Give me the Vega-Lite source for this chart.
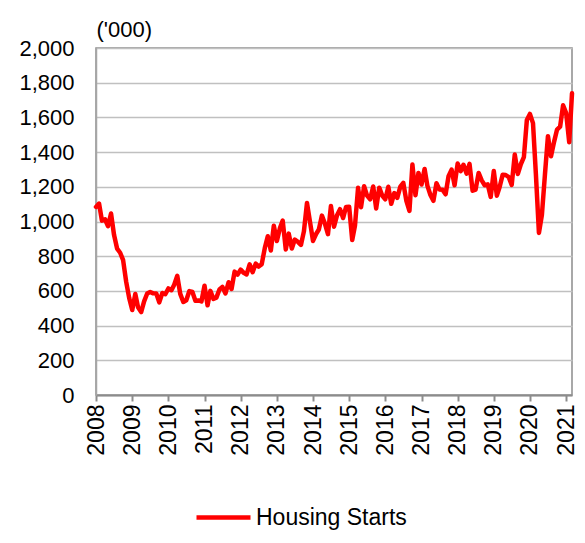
{
  "$schema": "https://vega.github.io/schema/vega-lite/v6.json",
  "width": 476,
  "height": 347,
  "autosize": {"type": "none"},
  "padding": {"left": 96, "top": 48, "right": 13, "bottom": 148},
  "background": "white",
  "config": {
    "font": "Liberation Sans",
    "view": {"stroke": "#8c8c8c", "strokeWidth": 1.5},
    "axis": {"labelColor": "#000000", "labelFont": "Liberation Sans", "titleFont": "Liberation Sans", "titleFontWeight": "normal", "titleColor": "#000000"}
  },
  "data": {
    "values": [
      {"date": "2008-01-01", "starts": 1084}, {"date": "2008-02-01", "starts": 1103}, {"date": "2008-03-01", "starts": 1005}, {"date": "2008-04-01", "starts": 1013}, {"date": "2008-05-01", "starts": 973}, {"date": "2008-06-01", "starts": 1046}, {"date": "2008-07-01", "starts": 923}, {"date": "2008-08-01", "starts": 844}, {"date": "2008-09-01", "starts": 820}, {"date": "2008-10-01", "starts": 777}, {"date": "2008-11-01", "starts": 652}, {"date": "2008-12-01", "starts": 560},
      {"date": "2009-01-01", "starts": 490}, {"date": "2009-02-01", "starts": 582}, {"date": "2009-03-01", "starts": 505}, {"date": "2009-04-01", "starts": 478}, {"date": "2009-05-01", "starts": 540}, {"date": "2009-06-01", "starts": 585}, {"date": "2009-07-01", "starts": 594}, {"date": "2009-08-01", "starts": 586}, {"date": "2009-09-01", "starts": 585}, {"date": "2009-10-01", "starts": 534}, {"date": "2009-11-01", "starts": 588}, {"date": "2009-12-01", "starts": 581},
      {"date": "2010-01-01", "starts": 614}, {"date": "2010-02-01", "starts": 604}, {"date": "2010-03-01", "starts": 636}, {"date": "2010-04-01", "starts": 687}, {"date": "2010-05-01", "starts": 583}, {"date": "2010-06-01", "starts": 536}, {"date": "2010-07-01", "starts": 546}, {"date": "2010-08-01", "starts": 599}, {"date": "2010-09-01", "starts": 594}, {"date": "2010-10-01", "starts": 543}, {"date": "2010-11-01", "starts": 545}, {"date": "2010-12-01", "starts": 539},
      {"date": "2011-01-01", "starts": 630}, {"date": "2011-02-01", "starts": 517}, {"date": "2011-03-01", "starts": 600}, {"date": "2011-04-01", "starts": 554}, {"date": "2011-05-01", "starts": 561}, {"date": "2011-06-01", "starts": 608}, {"date": "2011-07-01", "starts": 623}, {"date": "2011-08-01", "starts": 585}, {"date": "2011-09-01", "starts": 650}, {"date": "2011-10-01", "starts": 611}, {"date": "2011-11-01", "starts": 711}, {"date": "2011-12-01", "starts": 694},
      {"date": "2012-01-01", "starts": 723}, {"date": "2012-02-01", "starts": 704}, {"date": "2012-03-01", "starts": 695}, {"date": "2012-04-01", "starts": 753}, {"date": "2012-05-01", "starts": 708}, {"date": "2012-06-01", "starts": 757}, {"date": "2012-07-01", "starts": 740}, {"date": "2012-08-01", "starts": 754}, {"date": "2012-09-01", "starts": 847}, {"date": "2012-10-01", "starts": 915}, {"date": "2012-11-01", "starts": 833}, {"date": "2012-12-01", "starts": 976},
      {"date": "2013-01-01", "starts": 888}, {"date": "2013-02-01", "starts": 962}, {"date": "2013-03-01", "starts": 1005}, {"date": "2013-04-01", "starts": 839}, {"date": "2013-05-01", "starts": 930}, {"date": "2013-06-01", "starts": 844}, {"date": "2013-07-01", "starts": 896}, {"date": "2013-08-01", "starts": 883}, {"date": "2013-09-01", "starts": 865}, {"date": "2013-10-01", "starts": 943}, {"date": "2013-11-01", "starts": 1107}, {"date": "2013-12-01", "starts": 1000},
      {"date": "2014-01-01", "starts": 888}, {"date": "2014-02-01", "starts": 928}, {"date": "2014-03-01", "starts": 954}, {"date": "2014-04-01", "starts": 1034}, {"date": "2014-05-01", "starts": 988}, {"date": "2014-06-01", "starts": 927}, {"date": "2014-07-01", "starts": 1089}, {"date": "2014-08-01", "starts": 970}, {"date": "2014-09-01", "starts": 1036}, {"date": "2014-10-01", "starts": 1071}, {"date": "2014-11-01", "starts": 1020}, {"date": "2014-12-01", "starts": 1084},
      {"date": "2015-01-01", "starts": 1085}, {"date": "2015-02-01", "starts": 893}, {"date": "2015-03-01", "starts": 976}, {"date": "2015-04-01", "starts": 1194}, {"date": "2015-05-01", "starts": 1082}, {"date": "2015-06-01", "starts": 1203}, {"date": "2015-07-01", "starts": 1149}, {"date": "2015-08-01", "starts": 1128}, {"date": "2015-09-01", "starts": 1202}, {"date": "2015-10-01", "starts": 1075}, {"date": "2015-11-01", "starts": 1195}, {"date": "2015-12-01", "starts": 1150},
      {"date": "2016-01-01", "starts": 1128}, {"date": "2016-02-01", "starts": 1200}, {"date": "2016-03-01", "starts": 1102}, {"date": "2016-04-01", "starts": 1164}, {"date": "2016-05-01", "starts": 1136}, {"date": "2016-06-01", "starts": 1201}, {"date": "2016-07-01", "starts": 1223}, {"date": "2016-08-01", "starts": 1119}, {"date": "2016-09-01", "starts": 1061}, {"date": "2016-10-01", "starts": 1328}, {"date": "2016-11-01", "starts": 1151}, {"date": "2016-12-01", "starts": 1280},
      {"date": "2017-01-01", "starts": 1213}, {"date": "2017-02-01", "starts": 1303}, {"date": "2017-03-01", "starts": 1207}, {"date": "2017-04-01", "starts": 1153}, {"date": "2017-05-01", "starts": 1119}, {"date": "2017-06-01", "starts": 1221}, {"date": "2017-07-01", "starts": 1185}, {"date": "2017-08-01", "starts": 1183}, {"date": "2017-09-01", "starts": 1157}, {"date": "2017-10-01", "starts": 1261}, {"date": "2017-11-01", "starts": 1299}, {"date": "2017-12-01", "starts": 1209},
      {"date": "2018-01-01", "starts": 1334}, {"date": "2018-02-01", "starts": 1290}, {"date": "2018-03-01", "starts": 1327}, {"date": "2018-04-01", "starts": 1276}, {"date": "2018-05-01", "starts": 1332}, {"date": "2018-06-01", "starts": 1177}, {"date": "2018-07-01", "starts": 1184}, {"date": "2018-08-01", "starts": 1280}, {"date": "2018-09-01", "starts": 1237}, {"date": "2018-10-01", "starts": 1209}, {"date": "2018-11-01", "starts": 1214}, {"date": "2018-12-01", "starts": 1142},
      {"date": "2019-01-01", "starts": 1291}, {"date": "2019-02-01", "starts": 1149}, {"date": "2019-03-01", "starts": 1199}, {"date": "2019-04-01", "starts": 1270}, {"date": "2019-05-01", "starts": 1268}, {"date": "2019-06-01", "starts": 1256}, {"date": "2019-07-01", "starts": 1211}, {"date": "2019-08-01", "starts": 1386}, {"date": "2019-09-01", "starts": 1274}, {"date": "2019-10-01", "starts": 1330}, {"date": "2019-11-01", "starts": 1371}, {"date": "2019-12-01", "starts": 1585},
      {"date": "2020-01-01", "starts": 1620}, {"date": "2020-02-01", "starts": 1567}, {"date": "2020-03-01", "starts": 1276}, {"date": "2020-04-01", "starts": 934}, {"date": "2020-05-01", "starts": 1038}, {"date": "2020-06-01", "starts": 1273}, {"date": "2020-07-01", "starts": 1492}, {"date": "2020-08-01", "starts": 1376}, {"date": "2020-09-01", "starts": 1459}, {"date": "2020-10-01", "starts": 1530}, {"date": "2020-11-01", "starts": 1547}, {"date": "2020-12-01", "starts": 1670},
      {"date": "2021-01-01", "starts": 1625}, {"date": "2021-02-01", "starts": 1457}, {"date": "2021-03-01", "starts": 1739}
    ]
  },
  "mark": {"type": "line", "strokeWidth": 4.5, "strokeJoin": "round", "strokeCap": "round", "clip": false},
  "encoding": {
    "x": {
      "field": "date",
      "type": "temporal",
      "scale": {"type": "utc", "domain": [{"year": 2008, "month": 1, "date": 1, "utc": true}, {"year": 2021, "month": 3, "date": 1, "utc": true}], "nice": false},
      "axis": {
        "title": null,
        "values": [
          {"year": 2008, "month": 1, "date": 1, "utc": true}, {"year": 2009, "month": 1, "date": 1, "utc": true}, {"year": 2010, "month": 1, "date": 1, "utc": true}, {"year": 2011, "month": 1, "date": 1, "utc": true}, {"year": 2012, "month": 1, "date": 1, "utc": true}, {"year": 2013, "month": 1, "date": 1, "utc": true}, {"year": 2014, "month": 1, "date": 1, "utc": true}, {"year": 2015, "month": 1, "date": 1, "utc": true}, {"year": 2016, "month": 1, "date": 1, "utc": true}, {"year": 2017, "month": 1, "date": 1, "utc": true}, {"year": 2018, "month": 1, "date": 1, "utc": true}, {"year": 2019, "month": 1, "date": 1, "utc": true}, {"year": 2020, "month": 1, "date": 1, "utc": true}, {"year": 2021, "month": 1, "date": 1, "utc": true}
        ],
        "format": "%Y",
        "formatType": "utc",
        "labelAngle": -90,
        "labelAlign": "right",
        "labelBaseline": "middle",
        "labelFontSize": 23,
        "labelPadding": 3,
        "labelOverlap": false,
        "labelFlush": false,
        "grid": false,
        "domainColor": "#8c8c8c",
        "domainWidth": 2,
        "tickColor": "#8c8c8c",
        "tickWidth": 2,
        "tickSize": 6
      }
    },
    "y": {
      "field": "starts",
      "type": "quantitative",
      "scale": {"domain": [0, 2000], "nice": false},
      "axis": {
        "values": [0, 200, 400, 600, 800, 1000, 1200, 1400, 1600, 1800, 2000],
        "format": ",d",
        "title": "('000)",
        "titleAngle": 0,
        "titleAlign": "left",
        "titleBaseline": "middle",
        "titleX": 0,
        "titleY": -19,
        "titleFontSize": 22,
        "labelFontSize": 22,
        "labelPadding": 22,
        "ticks": false,
        "domainColor": "#a6a6a6",
        "domainWidth": 1.5,
        "gridColor": "#c0c0c0",
        "gridWidth": 1.5
      }
    },
    "color": {
      "datum": "Housing Starts",
      "scale": {"range": ["#ff0000"]},
      "legend": {
        "title": null,
        "orient": "none",
        "legendX": 98,
        "legendY": 440,
        "symbolType": "stroke",
        "symbolSize": 2916,
        "symbolStrokeWidth": 4.5,
        "labelFontSize": 23,
        "labelFont": "Liberation Sans",
        "labelColor": "#000000",
        "labelOffset": 3,
        "labelLimit": 300
      }
    }
  }
}
